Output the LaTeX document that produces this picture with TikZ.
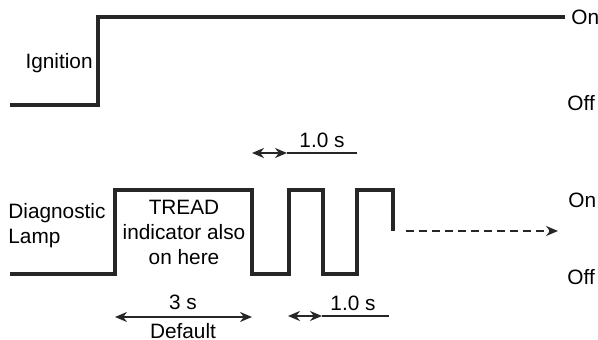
\documentclass[tikz,border=0pt]{standalone}
\usepackage{fontspec}
\setmainfont{Liberation Sans}
\usetikzlibrary{arrows.meta,positioning}

\begin{document}
\begin{tikzpicture}[
    x=0.5pt,y=-0.5pt,
    wave/.style={line width=1.6pt,line join=miter,black!85},
    span/.style={line width=1.2pt,black!85,{Stealth[length=6pt,width=5pt]}-{Stealth[length=6pt,width=5pt]}},
    spanline/.style={line width=1.2pt,black!85},
    cont/.style={line width=1.2pt,black!85,dash pattern=on 4pt off 2.5pt,-{Stealth[length=6pt,width=5pt]}},
    lbl/.style={font=\fontsize{10.4}{12.5}\selectfont,inner sep=0pt},
  ]
  \useasboundingbox (0,0) rectangle (598,340);

  % ignition signal
  \coordinate (ig0) at (10,105);
  \coordinate (ig1) at (98,105);
  \coordinate (ig2) at (98,17);
  \coordinate (ig3) at (565,17);
  \draw[wave] (ig0) -- (ig1) -- (ig2) -- (ig3);
  \node[lbl,anchor=east] (ignlbl) at (93,63) {Ignition};
  \node[lbl,anchor=west] (igon)  at (571,17)  {On};
  \node[lbl,anchor=west] (igoff) at (567,103) {Off};

  % diagnostic lamp signal
  \coordinate (dl0) at (10,274);
  \draw[wave] (dl0) -- (115,274) -- (115,190) -- (252,190) -- (252,274)
    -- (289,274) -- (289,190) -- (323,190) -- (323,274)
    -- (357,274) -- (357,190) -- (393,190) -- (393,231);
  \coordinate (dlgo) at (406,231);
  \coordinate (dlto) at (558,231);
  \draw[cont] (dlgo) -- (dlto);
  \node[lbl,anchor=west,align=left] (lamplbl) at (8,226) {Diagnostic\\Lamp};
  \node[lbl,align=center] (tread) at (184,232) {TREAD\\indicator also\\on here};
  \node[lbl,anchor=west] (dlon)  at (568,200) {On};
  \node[lbl,anchor=west] (dloff) at (567,277) {Off};

  % timing marks
  \coordinate (ta) at (252,153);
  \coordinate (tb) at (287,153);
  \coordinate (tc) at (357,153);
  \draw[span] (ta) -- (tb);
  \draw[spanline] (tb) -- (tc);
  \node[lbl] (toplbl) at (322,140) {1.0 s};

  \coordinate (ba) at (288,316);
  \coordinate (bb) at (322,316);
  \coordinate (bc) at (389,316);
  \draw[span] (ba) -- (bb);
  \draw[spanline] (bb) -- (bc);
  \node[lbl] (botlbl) at (353,303) {1.0 s};

  \coordinate (da) at (115,317);
  \coordinate (db) at (252,317);
  \draw[span] (da) -- (db);
  \node[lbl] (defsec) at (183,302) {3 s};
  \node[lbl] (deflbl) at (183,331) {Default};
\end{tikzpicture}
\end{document}
